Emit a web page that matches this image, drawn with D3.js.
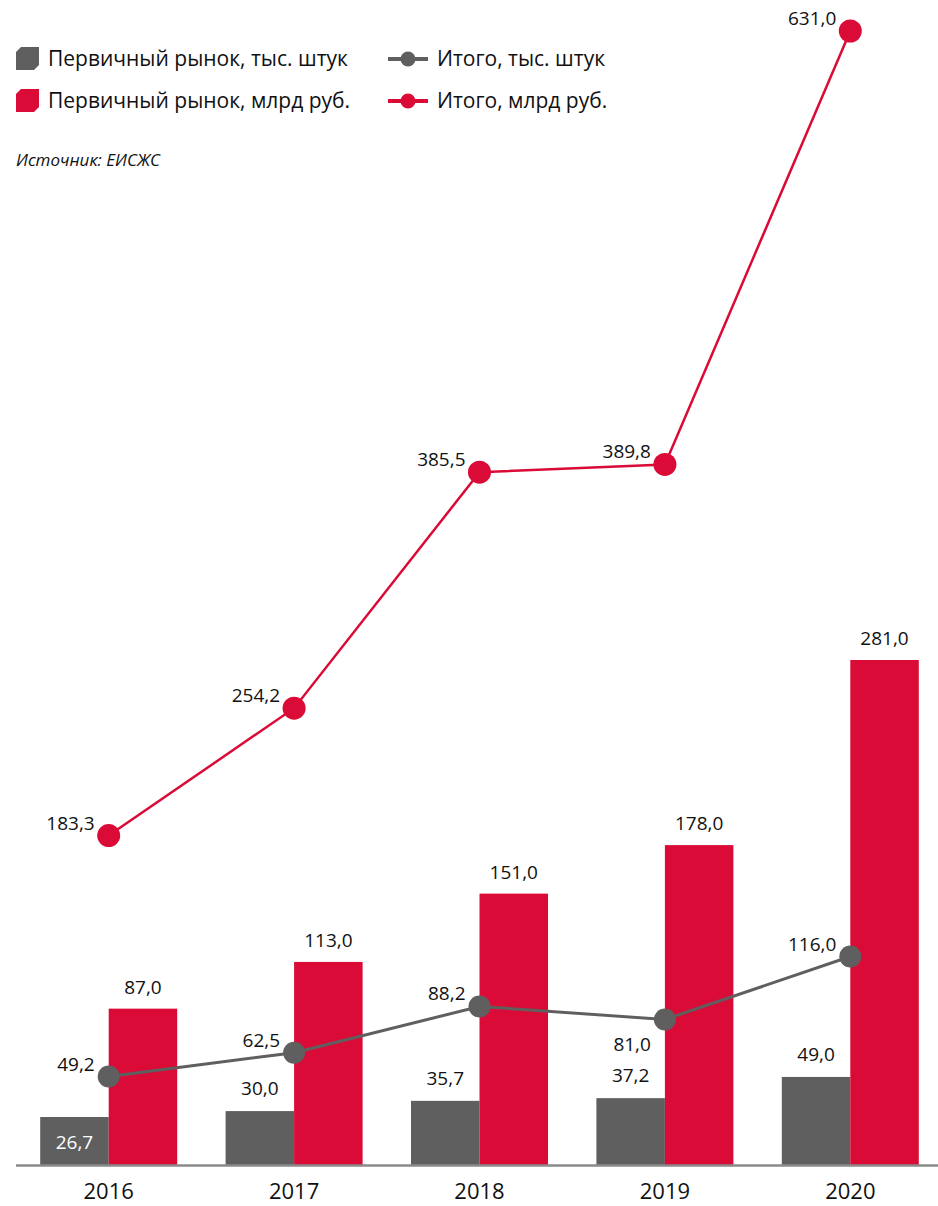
<!DOCTYPE html>
<html><head><meta charset="utf-8">
<script src="https://cdn.jsdelivr.net/npm/d3@7/dist/d3.min.js"></script>
<style>body{margin:0;background:#fff}svg{display:block}text{font-family:"Open Sans",sans-serif}</style>
</head><body><svg id="c" width="938" height="1206"></svg>
<script>
const years = ["2016","2017","2018","2019","2020"];
const primaryUnits = [26.7, 30.0, 35.7, 37.2, 49.0];
const primaryRub = [87.0, 113.0, 151.0, 178.0, 281.0];
const totalUnits = [49.2, 62.5, 88.2, 81.0, 116.0];
const totalRub = [183.3, 254.2, 385.5, 389.8, 631.0];
const unitLabelBelow = [false,false,false,true,false];

const GRAY = "#5f5f5f", RED = "#da0b36";
const fmt = v => v.toFixed(1).replace(".", ",");
const svg = d3.select("#c");
const x = d3.scaleBand().domain(years).range([16, 943]).paddingInner(0).paddingOuter(0);
const y = d3.scaleLinear().domain([0, 631]).range([1165, 31]);
const bw = 68.5;
const cx = d => x(d) + x.bandwidth()/2;

// bars
svg.selectAll(".bu").data(years).join("rect")
  .attr("x", d => cx(d) - bw).attr("width", bw)
  .attr("y", (d,i) => y(primaryUnits[i])).attr("height", (d,i) => y(0) - y(primaryUnits[i]))
  .attr("fill", GRAY);
svg.selectAll(".br").data(years).join("rect")
  .attr("x", d => cx(d)).attr("width", bw)
  .attr("y", (d,i) => y(primaryRub[i])).attr("height", (d,i) => y(0) - y(primaryRub[i]))
  .attr("fill", RED);

// axis
const ax = svg.append("g").attr("transform", `translate(0,${y(0)})`)
  .call(d3.axisBottom(x).tickSize(0).tickPadding(18));
ax.select(".domain").attr("stroke", "#8a8a8a").attr("stroke-width", 2.5).attr("d", "M16,0.5H938");
ax.selectAll("text").attr("font-size", 22).attr("fill", "#111").attr("font-family", '"Open Sans",sans-serif');

// bar labels
svg.selectAll(".lu").data(years).join("text")
  .attr("x", d => cx(d) - bw/2)
  .attr("y", (d,i) => i === 0 ? y(primaryUnits[i]) + 32 : y(primaryUnits[i]) - 16)
  .attr("text-anchor", "middle").attr("font-size", 19)
  .attr("fill", (d,i) => i === 0 ? "#fff" : "#111")
  .text((d,i) => fmt(primaryUnits[i]));
svg.selectAll(".lr").data(years).join("text")
  .attr("x", d => cx(d) + bw/2)
  .attr("y", (d,i) => y(primaryRub[i]) - 15)
  .attr("text-anchor", "middle").attr("font-size", 19).attr("fill", "#111")
  .text((d,i) => fmt(primaryRub[i]));

// lines
const line = arr => d3.line().x((d,i) => cx(years[i])).y(d => y(d))(arr);
svg.append("path").attr("d", line(totalUnits)).attr("fill","none").attr("stroke", GRAY).attr("stroke-width", 3);
svg.append("path").attr("d", line(totalRub)).attr("fill","none").attr("stroke", RED).attr("stroke-width", 2.5);
svg.selectAll(".du").data(years).join("circle")
  .attr("cx", d => cx(d)).attr("cy", (d,i) => y(totalUnits[i])).attr("r", 11).attr("fill", GRAY);
svg.selectAll(".dr").data(years).join("circle")
  .attr("cx", d => cx(d)).attr("cy", (d,i) => y(totalRub[i])).attr("r", 11.5).attr("fill", RED);

svg.selectAll(".tu").data(years).join("text")
  .attr("x", d => cx(d) - 14)
  .attr("y", (d,i) => unitLabelBelow[i] ? y(totalUnits[i]) + 32 : y(totalUnits[i]) - 6)
  .attr("text-anchor", "end").attr("font-size", 19).attr("fill", "#111")
  .text((d,i) => fmt(totalUnits[i]));
svg.selectAll(".tr").data(years).join("text")
  .attr("x", d => cx(d) - 14)
  .attr("y", (d,i) => y(totalRub[i]) - 6)
  .attr("text-anchor", "end").attr("font-size", 19).attr("fill", "#111")
  .text((d,i) => fmt(totalRub[i]));

// legend
const chamfer = (x0, y0, s, c) => `M${x0+c},${y0}H${x0+s}V${y0+s-c}L${x0+s-c},${y0+s}H${x0}V${y0+c}Z`;
const leg = svg.append("g");
leg.append("path").attr("d", chamfer(16, 47, 23, 5)).attr("fill", GRAY);
leg.append("path").attr("d", chamfer(16, 89, 23, 5)).attr("fill", RED);
leg.append("text").attr("x", 48).attr("y", 66).attr("font-size", 21).attr("fill", "#111").text("Первичный рынок, тыс. штук");
leg.append("text").attr("x", 48).attr("y", 108).attr("font-size", 21).attr("fill", "#111").text("Первичный рынок, млрд руб.");
leg.append("line").attr("x1", 388).attr("x2", 428).attr("y1", 59).attr("y2", 59).attr("stroke", GRAY).attr("stroke-width", 4);
leg.append("circle").attr("cx", 408).attr("cy", 59).attr("r", 7.5).attr("fill", GRAY);
leg.append("line").attr("x1", 388).attr("x2", 428).attr("y1", 101).attr("y2", 101).attr("stroke", RED).attr("stroke-width", 4);
leg.append("circle").attr("cx", 408).attr("cy", 101).attr("r", 7.5).attr("fill", RED);
leg.append("text").attr("x", 437).attr("y", 66).attr("font-size", 21).attr("fill", "#111").text("Итого, тыс. штук");
leg.append("text").attr("x", 437).attr("y", 108).attr("font-size", 21).attr("fill", "#111").text("Итого, млрд руб.");
leg.append("text").attr("x", 16).attr("y", 166).attr("font-size", 17).attr("font-style", "italic").attr("fill", "#111").text("Источник: ЕИСЖС");
</script></body></html>
